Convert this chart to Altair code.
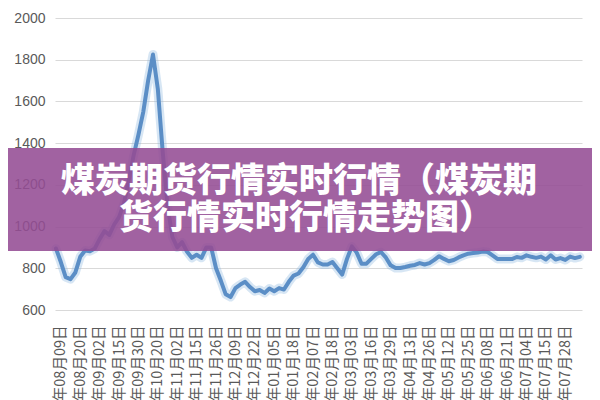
import altair as alt
import pandas as pd

# price series (roughly 4 points per label interval)
prices = [
    895, 830, 758, 748, 780, 855, 885, 882, 895, 940,
    978, 960, 1010, 1045, 1110, 1220, 1340, 1440, 1550, 1700,
    1825, 1660, 1360, 1100, 950, 900, 925, 880, 850, 865,
    850, 900, 900, 800, 740, 675, 662, 705, 722, 735,
    710, 690, 696, 682, 703, 690, 705, 698, 735, 765,
    775, 805, 845, 865, 828, 818, 818, 830, 800, 770,
    845, 905, 875, 822, 822, 845, 867, 878, 852, 814,
    801, 801, 806, 812, 816, 825, 818, 825, 840, 858,
    845, 834, 840, 852, 862, 870, 873, 876, 880, 878,
    862, 845, 844, 845, 844, 854, 850, 862, 855, 850,
    856, 842, 862, 842, 849, 840, 856, 849, 855,
]

x_labels = [
    "2021年08月09日", "2021年08月20日", "2021年09月02日", "2021年09月15日",
    "2021年09月30日", "2021年10月20日", "2021年11月02日", "2021年11月15日",
    "2021年11月26日", "2021年12月09日", "2021年12月22日", "2022年01月05日",
    "2022年01月18日", "2022年02月07日", "2022年02月18日", "2022年03月03日",
    "2022年03月16日", "2022年03月29日", "2022年04月13日", "2022年04月26日",
    "2022年05月12日", "2022年05月25日", "2022年06月08日", "2022年06月21日",
    "2022年07月04日", "2022年07月15日", "2022年07月28日",
]

y_ticks = [600, 800, 1000, 1200, 1400, 1600, 1800, 2000]

title_lines = ["煤炭期货行情实时行情（煤炭期", "货行情实时行情走势图）"]

df = pd.DataFrame({"i": list(range(len(prices))), "price": prices})

label_idx = [1 + 4 * k for k in range(len(x_labels))]
label_js = "[" + ",".join("'" + s + "'" for s in x_labels) + "]"
label_expr = label_js + "[round((datum.value - 1) / 4)]"

x_enc = alt.X(
    "i:Q",
    scale=alt.Scale(domain=[-0.2, 108.45], nice=False, zero=False),
    axis=alt.Axis(
        values=label_idx, labelExpr=label_expr, labelAngle=-90,
        grid=False, domain=False, ticks=False, labelPadding=15,
        labelFontSize=14.5, labelColor="#595959", labelFont="Noto Sans CJK SC",
        labelOverlap=False, title=None,
    ),
)
y_enc = alt.Y(
    "price:Q",
    scale=alt.Scale(domain=[600, 2000], nice=False, zero=False),
    axis=alt.Axis(
        values=y_ticks, format="d", grid=True, gridColor="#d9d9d9", gridWidth=1,
        domain=False, ticks=False, labelPadding=10, labelFontSize=14,
        labelColor="#595959", labelFont="Liberation Sans", title=None,
    ),
)

base = alt.Chart(df)
glow = base.mark_line(color="#8db8e0", strokeWidth=9, opacity=0.35,
                      strokeJoin="round", strokeCap="round").encode(x=x_enc, y=y_enc)
line = base.mark_line(color="#5b8ec6", strokeWidth=4,
                      strokeJoin="round", strokeCap="round").encode(x=x_enc, y=y_enc)

one = pd.DataFrame({"a": [0]})
banner = alt.Chart(one).mark_rect(fill="#944c94", opacity=0.88).encode(
    x=alt.value(-47), x2=alt.value(537), y=alt.value(130), y2=alt.value(233)
)
t1 = alt.Chart(one).mark_text(
    font="Noto Sans CJK SC", fontWeight=900, fontSize=34, color="white",
    align="center", baseline="middle",
).encode(x=alt.value(244), y=alt.value(164), text=alt.value(title_lines[0]))
t2 = alt.Chart(one).mark_text(
    font="Noto Sans CJK SC", fontWeight=900, fontSize=34, color="white",
    align="center", baseline="middle",
).encode(x=alt.value(251), y=alt.value(201), text=alt.value(title_lines[1]))

chart = alt.layer(glow, line, banner, t1, t2).properties(
    width=527, height=292,
    autosize=alt.AutoSizeParams(type="none"),
    padding={"left": 47, "top": 10, "right": 10, "bottom": 90},
    background="white",
).configure_view(stroke=None)

chart.save("out.html", embed_options={"renderer": "svg", "actions": False})
